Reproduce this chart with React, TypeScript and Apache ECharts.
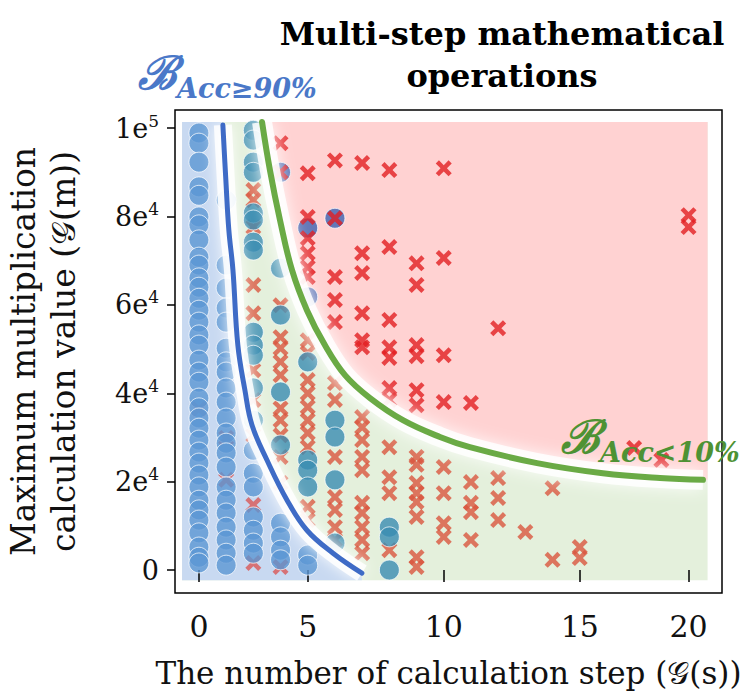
import React, { useEffect, useRef } from "react";
import * as echarts from "echarts";

// ---- axis ticks (label positions as drawn in the reference) ----
const xTickPositions = [1, 5, 10, 15, 19];
const xTickLabels = ["0", "5", "10", "15", "20"];
const yTickValues = [0, 20000, 40000, 60000, 80000, 100000];

// ---- boundary curves ----
const blueCurveX = [1.88, 1.99, 2.1, 2.25, 2.43, 2.69, 2.95, 3.5, 4.24, 4.97, 5.93, 6.99];
const blueCurveY = [100700, 88200, 76900, 67900, 50900, 40700, 32800, 24900, 15800, 9000, 3800, -700];
const greenCurveX = [3.32, 3.61, 3.98, 4.42, 4.97, 5.63, 6.37, 7.29, 8.5, 9.86, 10.96, 13.43, 15.85, 17.95, 19.53];
const greenCurveY = [101400, 90500, 79200, 67900, 58800, 50900, 44100, 38900, 33900, 30100, 27800, 24200, 21900, 20800, 20400];

// background region extent
const regionX = [0.38, 19.7];
const regionY = [-2300, 101400];

// ---- points ----
const circlesBlueRegion = [
  [1, 98900], [1, 96600], [1, 92300], [1, 86700], [1, 84800], [1, 79900], [1, 78100], [1, 74700], [1, 70800],
  [1, 69000], [1, 66100], [1, 64000], [1, 61500], [1, 58800], [1, 56100], [1, 53200], [1, 50900], [1, 47500],
  [1, 44800], [1, 42500], [1, 38900], [1, 36700], [1, 34400], [1, 32100], [1, 29400], [1, 26700], [1, 24200],
  [1, 21500], [1, 18800], [1, 15800], [1, 13600], [1, 11300], [1, 8400], [1, 5200], [1, 2900], [1, 1600],
  [2, 83700], [2, 69000], [2, 63800], [2, 59300], [2, 56100], [2, 50200], [2, 47100], [2, 44800], [2, 41200],
  [2, 38000], [2, 34400], [2, 31000], [2, 28700], [2, 26500], [2, 23300], [2, 18800], [2, 15800], [2, 12900],
  [2, 9700], [2, 6800], [2, 3800], [2, 1100],
  [3, 27100], [3, 21900], [3, 18800], [3, 12000], [3, 9000], [3, 6100], [3, 3800],
  [4, 10600], [4, 7500], [4, 4500], [4, 2300],
  [5, 3400], [5, 1100],
];
const circlesGreenRegion = [
  [3, 99500], [3, 97300], [3, 92300], [3, 90000], [3, 80800], [3, 79200], [3, 74200], [3, 72400], [3, 53800],
  [3, 50900], [3, 48600], [3, 41200], [3, 33900],
  [4, 68300], [4, 57700], [4, 40300], [4, 28300],
  [5, 47100], [5, 24900], [5, 22600], [5, 18800],
  [6, 33900], [6, 30100], [6, 20400], [6, 6100],
  [8, 9700], [8, 7500], [8, 0],
];
const circlesRedRegion = [[4, 90000], [5, 77400], [6, 79600], [5, 61800]];
const crossesBlueRegion = [[1, 36400], [2, 29900], [2, 20400], [3, 14700], [3, 1600], [4, 700]];
const crossesGreenRegion = [
  [3, 86000], [3, 83700], [3, 77600], [3, 64500], [3, 58100], [3, 45200], [3, 38500], [3, 30500],
  [4, 59900], [4, 52700], [4, 50200], [4, 47100], [4, 44100], [4, 36600], [4, 33900], [4, 30500], [4, 25600], [4, 19700],
  [5, 52000], [5, 49100], [5, 43000], [5, 40000], [5, 36900], [5, 33900], [5, 31000], [5, 27800], [5, 14300], [5, 11300],
  [6, 42300], [6, 38500], [6, 25600], [6, 16500], [6, 13600], [6, 9700], [6, 6800],
  [7, 34600], [7, 32300], [7, 29400], [7, 25600], [7, 22600], [7, 15200], [7, 12900], [7, 9700], [7, 6800], [7, 3800],
  [8, 27800], [8, 21000], [8, 17400], [8, 4500],
  [9, 25600], [9, 23800], [9, 19700], [9, 17400], [9, 15400], [9, 12000], [9, 2900], [9, 700],
  [10, 23300], [10, 17400], [10, 10600], [10, 7500],
  [11, 19900], [11, 15200], [11, 13100], [11, 6800],
  [12, 20800], [12, 16300], [12, 11300],
  [13, 8600],
  [14, 18500], [14, 2300],
  [15, 5200], [15, 2700],
];
const crossesRedRegion = [
  [4, 96600], [4, 90000],
  [5, 89800], [5, 79900], [5, 75100], [5, 71700], [5, 68500], [5, 66300],
  [6, 92700], [6, 79600], [6, 66300], [6, 61100], [6, 56100],
  [7, 92100], [7, 71700], [7, 67200], [7, 58100], [7, 52000], [7, 50400],
  [8, 90500], [8, 73100], [8, 56600], [8, 50400], [8, 48000], [8, 41200], [8, 38500],
  [9, 69400], [9, 64500], [9, 50900], [9, 48400], [9, 40700], [9, 37300],
  [10, 90900], [10, 70600], [10, 48600], [10, 38000],
  [11, 37800],
  [12, 54700],
  [17, 27600],
  [18, 24900],
  [19, 80300], [19, 77600],
];

const SERIF = "DejaVu Serif";
const CROSS = "path://M0,4L4,0L10,6L16,0L20,4L14,10L20,16L16,20L10,14L4,20L0,16L6,10Z";

function zipCurve(xs: number[], ys: number[]) {
  return xs.map((x, i) => [x, ys[i]]);
}

export default function App() {
  const ref = useRef<HTMLDivElement>(null);
  useEffect(() => {
    if (!ref.current) return;
    const chart = echarts.init(ref.current, null, { renderer: "svg" });
    const blueCurve = zipCurve(blueCurveX, blueCurveY);
    const greenCurve = zipCurve(greenCurveX, greenCurveY);

    const circle = (name: string, data: number[][], color: string, z: number) => ({
      name,
      type: "scatter",
      data,
      symbol: "circle",
      symbolSize: 20,
      z,
      silent: true,
      itemStyle: { color, borderColor: "rgba(255,255,255,0.9)", borderWidth: 1 },
    });
    const cross = (name: string, data: number[][], color: string, z: number) => ({
      name,
      type: "scatter",
      data,
      symbol: CROSS,
      symbolSize: 16,
      z,
      silent: true,
      itemStyle: { color },
    });

    const option: any = {
      animation: false,
      backgroundColor: "#fff",
      title: {
        text: "Multi-step mathematical\noperations",
        left: 497,
        top: 8,
        textAlign: "center",
        textStyle: { fontFamily: SERIF, fontWeight: "bold", fontSize: 32, lineHeight: 42, color: "#000" },
      },
      grid: {
        left: 175, right: 19, top: 110, bottom: 104,
        outerBoundsMode: "none", containLabel: false,
        show: true, borderColor: "#000", borderWidth: 1.5, backgroundColor: "transparent",
      },
      xAxis: {
        type: "value",
        min: 0.12,
        max: 20.23,
        axisLine: { show: false },
        splitLine: { show: false },
        axisTick: { show: true, inside: false, length: 12, customValues: xTickPositions, lineStyle: { color: "#000", width: 1.5 } },
        axisLabel: {
          customValues: xTickPositions,
          formatter: (v: number) => xTickLabels[xTickPositions.indexOf(v)] ?? "",
          fontFamily: SERIF,
          fontSize: 30,
          color: "#111",
          margin: 18,
        },
        name: "The number of calculation step (𝒢(s))",
        nameLocation: "middle",
        nameGap: 64,
        nameTextStyle: { fontFamily: SERIF, fontSize: 31, color: "#111" },
      },
      yAxis: {
        type: "value",
        min: -5200,
        max: 104100,
        axisLine: { show: false },
        splitLine: { show: false },
        axisTick: { show: true, inside: false, length: 8, customValues: yTickValues, lineStyle: { color: "#000", width: 1.5 } },
        axisLabel: {
          customValues: yTickValues,
          formatter: (v: number) => {
            if (v === 0) return "{b|0}";
            const e = Math.floor(Math.log10(v) + 1e-9);
            const m = Math.round(v / Math.pow(10, e));
            return `{b|${m}e}{s|${e}}`;
          },
          margin: 16,
          rich: {
            b: { fontFamily: SERIF, fontSize: 27, color: "#111", lineHeight: 32 },
            s: { fontFamily: SERIF, fontSize: 17, color: "#111", lineHeight: 32, verticalAlign: "top", padding: [0, 0, 12, 0] },
          },
        },
        name: "Maximum multiplication\ncalculation value (𝒢(m))",
        nameLocation: "middle",
        nameRotate: 90,
        nameGap: 92,
        nameTextStyle: { fontFamily: SERIF, fontSize: 33, color: "#111", lineHeight: 40 },
      },
      graphic: [
        {
          type: "text",
          left: 138,
          top: 50,
          z: 100,
          style: {
            text: "{b|ℬ}{s|Acc≥90%}",
            rich: {
              b: { fontFamily: SERIF, fontSize: 46, fontStyle: "italic", fontWeight: "bold", fill: "#4a78c8", color: "#4a78c8" },
              s: { fontFamily: SERIF, fontSize: 27, fontStyle: "italic", fontWeight: "bold", fill: "#4a78c8", color: "#4a78c8", padding: [30, 0, 0, 0] },
            },
          },
        },
        {
          type: "text",
          left: 561,
          top: 414,
          z: 100,
          style: {
            text: "{b|ℬ}{s|Acc<10%}",
            rich: {
              b: { fontFamily: SERIF, fontSize: 46, fontStyle: "italic", fontWeight: "bold", fill: "#4e9234", color: "#4e9234" },
              s: { fontFamily: SERIF, fontSize: 27, fontStyle: "italic", fontWeight: "bold", fill: "#4e9234", color: "#4e9234", padding: [30, 0, 0, 0] },
            },
          },
        },
      ],
      series: [
        {
          type: "custom",
          silent: true,
          z: 0,
          data: [[0, 0]],
          renderItem: (_params: any, api: any) => {
            const pt = (x: number, y: number) => api.coord([x, y]);
            const greenRect = [
              pt(regionX[0], regionY[1]), pt(regionX[1], regionY[1]),
              pt(regionX[1], regionY[0]), pt(regionX[0], regionY[0]),
            ];
            const bluePoly = [
              pt(regionX[0], regionY[1]),
              pt(blueCurveX[0], regionY[1]),
              ...blueCurveX.map((x, i) => pt(x, blueCurveY[i])),
              pt(blueCurveX[blueCurveX.length - 1], regionY[0]),
              pt(regionX[0], regionY[0]),
            ];
            const redPoly = [
              pt(greenCurveX[0], regionY[1]),
              ...greenCurveX.map((x, i) => pt(x, greenCurveY[i])),
              pt(regionX[1], greenCurveY[greenCurveY.length - 1]),
              pt(regionX[1], regionY[1]),
            ];
            return {
              type: "group",
              children: [
                { type: "polygon", shape: { points: greenRect }, style: { fill: "#e4f0dc" } },
                { type: "polygon", shape: { points: bluePoly }, style: { fill: "#c8d9f1" } },
                { type: "polygon", shape: { points: redPoly }, style: { fill: "#ffd2d2" } },
              ],
            };
          },
        },
        cross("Incorrect (blue region)", crossesBlueRegion, "#d95757", 2),
        circle("Correct (blue region)", circlesBlueRegion, "#5b96d3", 3),
        cross("Incorrect (green region)", crossesGreenRegion, "#d9563e", 2),
        circle("Correct (green region)", circlesGreenRegion, "#3a8cb2", 3),
        circle("Correct (red region)", circlesRedRegion, "#3d62b0", 2),
        cross("Incorrect (red region)", crossesRedRegion, "#e21f22", 3),
        {
          type: "line", data: blueCurve, smooth: 0.4, symbol: "none", silent: true, z: 5,
          lineStyle: { color: "rgba(255,255,255,0.85)", width: 18, shadowBlur: 14, shadowColor: "#fff" },
        },
        {
          type: "line", data: greenCurve, smooth: 0.4, symbol: "none", silent: true, z: 5,
          lineStyle: { color: "rgba(255,255,255,0.85)", width: 20, shadowBlur: 16, shadowColor: "#fff" },
        },
        {
          type: "line", data: blueCurve, smooth: 0.4, symbol: "none", silent: true, z: 6,
          lineStyle: { color: "#3e6bc6", width: 5, cap: "round" },
        },
        {
          type: "line", data: greenCurve, smooth: 0.4, symbol: "none", silent: true, z: 6,
          lineStyle: { color: "#6aaa45", width: 6, cap: "round" },
        },
      ],
    };
    chart.setOption(option);
    return () => chart.dispose();
  }, []);
  return <div ref={ref} style={{ position: "fixed", left: 0, top: 0, width: 741, height: 697 }} />;
}
